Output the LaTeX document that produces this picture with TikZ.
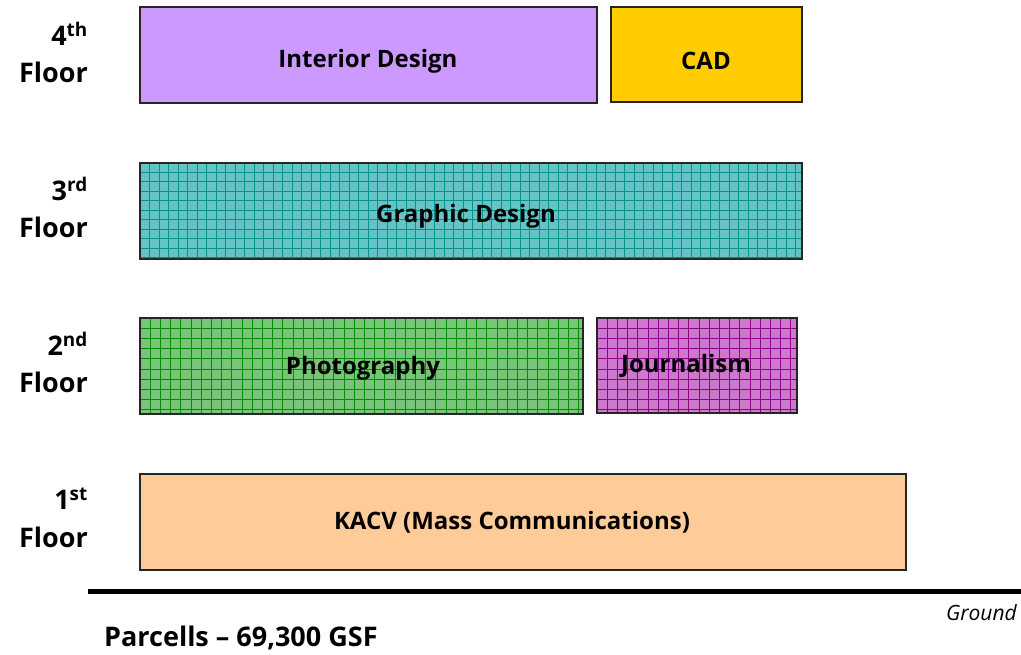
\documentclass[tikz,border=0pt]{standalone}
\usepackage{fontspec}
\setmainfont{Open Sans}
\definecolor{lav}{RGB}{204,153,255}
\definecolor{gold}{RGB}{255,204,0}
\definecolor{teal1}{RGB}{102,196,196}
\definecolor{teal2}{RGB}{0,145,145}
\definecolor{grn1}{RGB}{120,196,120}
\definecolor{grn2}{RGB}{0,140,0}
\definecolor{pur1}{RGB}{204,120,204}
\definecolor{pur2}{RGB}{140,0,140}
\definecolor{peach}{RGB}{255,204,153}
\begin{document}
\begin{tikzpicture}[x=1pt,y=-1pt,
  room/.style={draw=black!85, line width=1.5pt},
  lbl/.style={font=\fontsize{24}{26}\selectfont\bfseries},
  floorlbl/.style={font=\fontsize{27}{29}\selectfont\bfseries, anchor=east, inner sep=0pt}]
\useasboundingbox (0,0) rectangle (1021,655);
% 4th floor
\fill[lav] (140,7) rectangle (597,103);
\draw[room] (140,7) rectangle (597,103);
\node[lbl] (interior) at (368,61) {Interior Design};
\fill[gold] (611,7) rectangle (802,102);
\draw[room] (611,7) rectangle (802,102);
\node[lbl] (cad) at (706,61) {CAD};
% 3rd floor
\fill[teal1] (140,163) rectangle (802,259);
\begin{scope}
\clip (140,163) rectangle (802,259);
\draw[teal2, line width=1pt, shift={(140,163)}] (0,0) grid[step=9.5pt] (662,96);
\end{scope}
\draw[room] (140,163) rectangle (802,259);
\node[lbl] (graphic) at (466,216) {Graphic Design};
% 2nd floor
\fill[grn1] (140,318) rectangle (583,414);
\begin{scope}
\clip (140,318) rectangle (583,414);
\draw[grn2, line width=0.9pt, shift={(140,318)}] (0,0) grid[step=10.2pt] (443,96);
\end{scope}
\draw[room] (140,318) rectangle (583,414);
\node[lbl] (photo) at (363,368) {Photography};
\fill[pur1] (597,318) rectangle (797,413);
\begin{scope}
\clip (597,318) rectangle (797,413);
\draw[pur2, line width=0.9pt, shift={(597,318)}] (0,0) grid[step=10.2pt] (200,95);
\end{scope}
\draw[room] (597,318) rectangle (797,413);
\node[lbl] (journal) at (686,366) {Journalism};
% 1st floor
\fill[peach] (140,474) rectangle (906,570);
\draw[room] (140,474) rectangle (906,570);
\node[lbl] (kacv) at (512,522) {KACV (Mass Communications)};
% floor labels
\node[floorlbl] (f4n) at (88,34) {4\textsuperscript{th}};
\node[floorlbl] (f4) at (88,72) {Floor};
\node[floorlbl] (f3n) at (88,189) {3\textsuperscript{rd}};
\node[floorlbl] (f3) at (88,227) {Floor};
\node[floorlbl] (f2n) at (88,344) {2\textsuperscript{nd}};
\node[floorlbl] (f2) at (88,382) {Floor};
\node[floorlbl] (f1n) at (88,499) {1\textsuperscript{st}};
\node[floorlbl] (f1) at (88,537) {Floor};
% ground
\coordinate (gl) at (88,591);
\coordinate (gr) at (1021,591);
\draw[line width=5pt] (gl) -- (gr);
\node[font=\fontsize{21}{23}\selectfont\itshape, anchor=east, inner sep=0pt] (ground) at (1017,613) {Ground};
\node[font=\fontsize{27}{29}\selectfont\bfseries, anchor=west, inner sep=0pt] (parcells) at (104,638) {Parcells -- 69,300 GSF};
\end{tikzpicture}
\end{document}
